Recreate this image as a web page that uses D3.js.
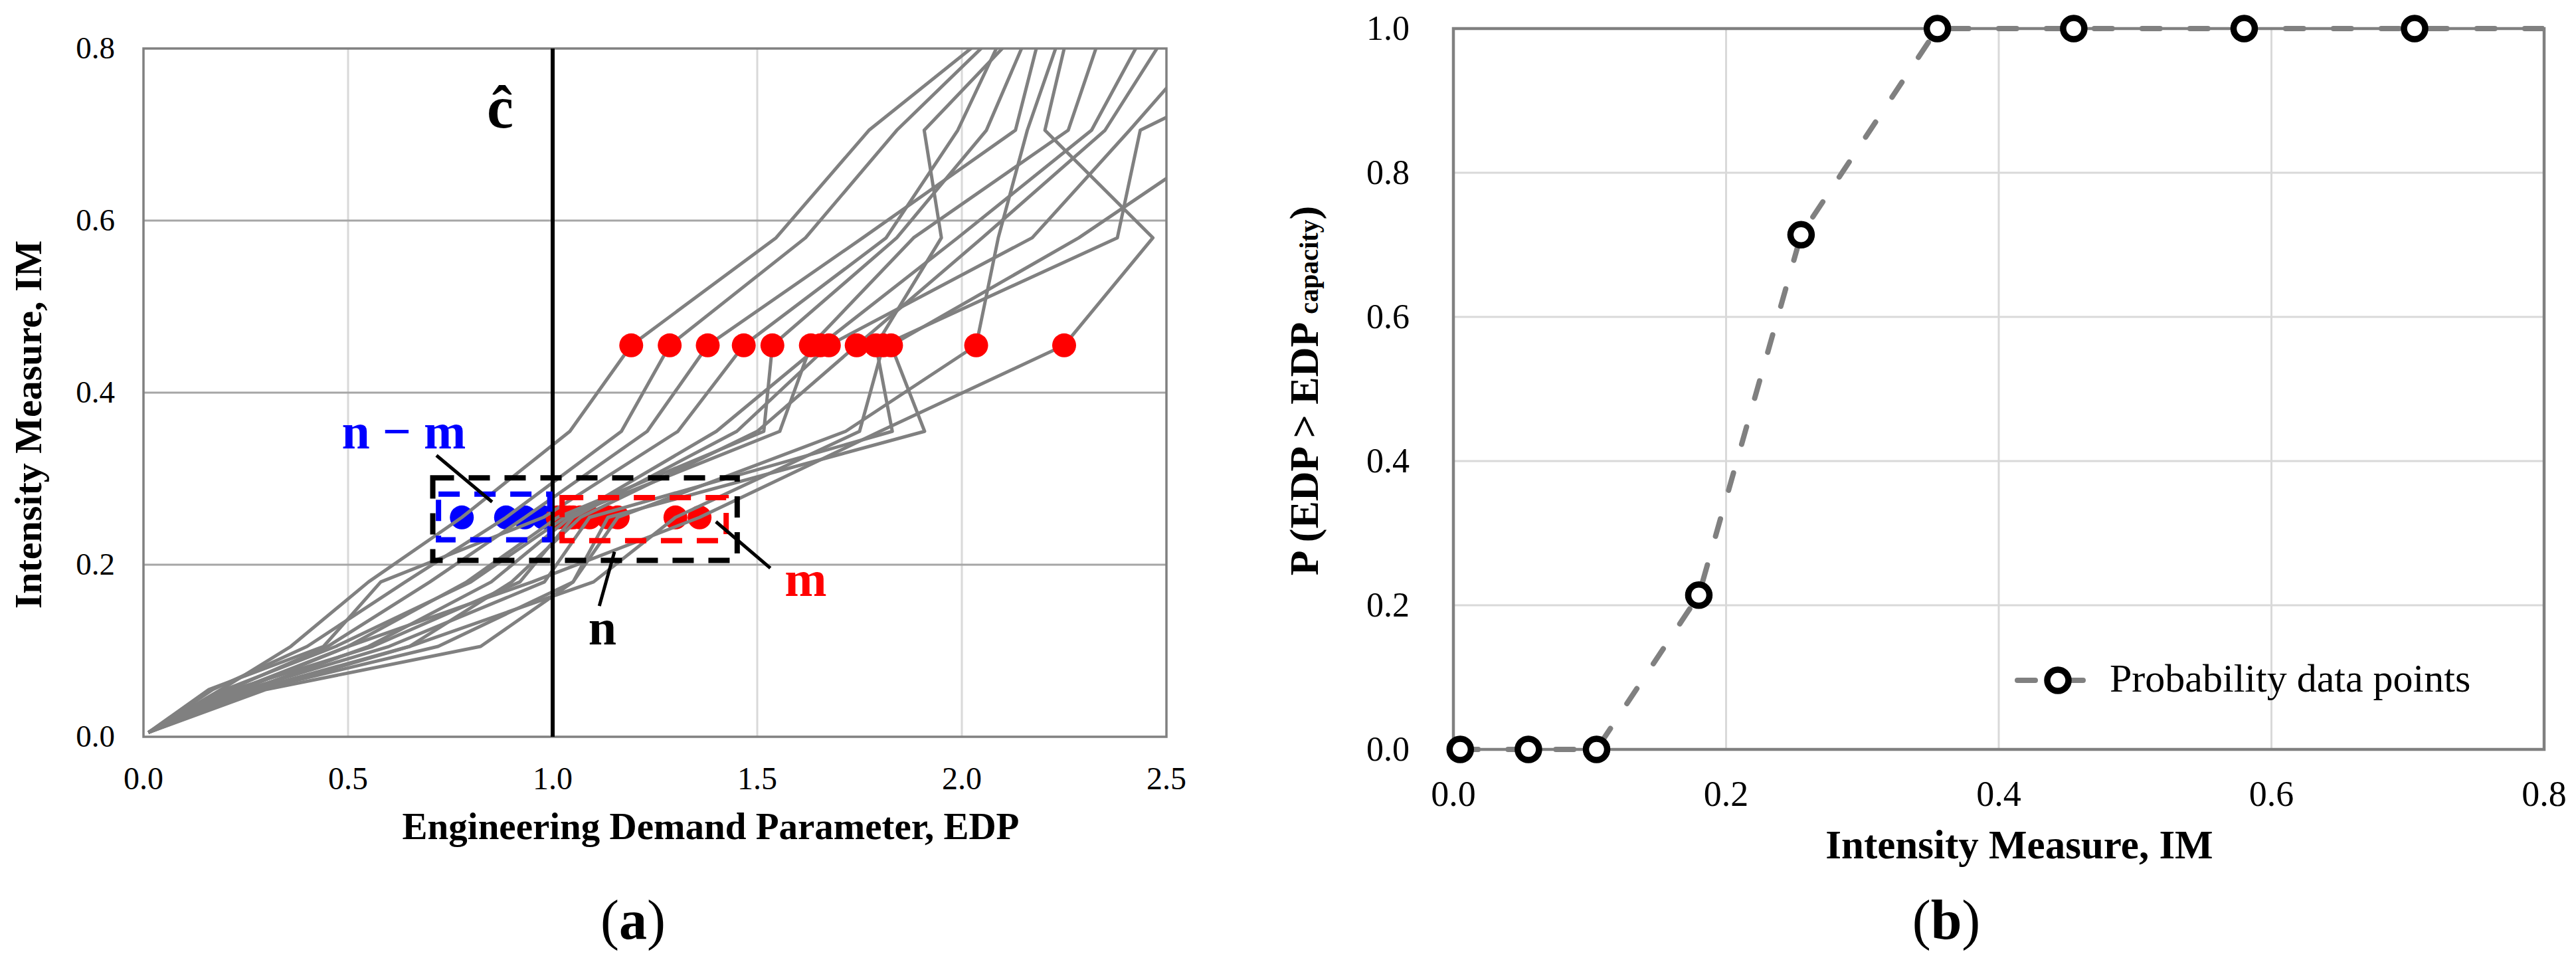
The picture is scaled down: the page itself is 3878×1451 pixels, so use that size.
<!DOCTYPE html>
<html>
<head>
<meta charset="utf-8">
<script src="https://cdn.jsdelivr.net/npm/d3@7"></script>
<style>
  html, body { margin: 0; padding: 0; background: #fff; }
  svg { display: block; }
  text { font-family: "Liberation Serif", "Times New Roman", serif; }
</style>
</head>
<body>
<svg id="chart" width="3878" height="1451"></svg>
<script>
// ---------------- DATA ----------------
// IDA intensity levels (IM) shared by every record
const imLevels = [0.005, 0.055, 0.105, 0.18, 0.255, 0.355, 0.455, 0.58, 0.705, 0.83];

// EDP of each record at each IM level
const rec01 = [0.012, 0.19, 0.36, 0.55, 0.778, 1.042, 1.192, 1.546, 1.773, 2.101];
const rec02 = [0.012, 0.17, 0.40, 0.64, 0.886, 1.168, 1.286, 1.618, 1.841, 2.112];
const rec03 = [0.012, 0.21, 0.45, 0.70, 0.932, 1.231, 1.379, 1.758, 2.131, 2.198];
const rec04 = [0.012, 0.16, 0.44, 0.58, 0.977, 1.306, 1.467, 1.815, 1.990, 2.114];
const rec05 = [0.012, 0.24, 0.50, 0.79, 1.012, 1.516, 1.537, 1.841, 2.060, 2.173];
const rec06 = [0.012, 0.20, 0.47, 0.80, 1.030, 1.555, 1.631, 1.882, 2.260, 2.349];
const rec07 = [0.012, 0.26, 0.55, 0.85, 1.042, 1.400, 1.654, 1.990, 2.317, 2.459];
const rec08 = [0.012, 0.22, 0.56, 0.92, 1.050, 1.450, 1.675, 2.172, 2.410, 2.640];
const rec09 = [0.012, 0.27, 0.65, 0.90, 1.068, 1.500, 1.743, 2.050, 2.350, 2.517];
const rec10 = [0.012, 0.25, 0.60, 0.98, 1.090, 1.830, 1.790, 1.950, 1.908, 2.159];
const rec11 = [0.012, 0.28, 0.72, 1.05, 1.135, 1.909, 1.827, 2.286, 2.674, 3.060];
const rec12 = [0.012, 0.30, 0.824, 1.05, 1.159, 1.716, 2.035, 2.089, 2.160, 2.251];
const rec13 = [0.012, 0.23, 0.50, 0.95, 1.359, 1.800, 2.250, 2.467, 2.203, 2.265];
const rec14 = [0.012, 0.29, 0.65, 1.10, 1.300, 1.750, 1.808, 2.380, 2.436, 2.970];
const records = [rec01, rec02, rec03, rec04, rec05, rec06, rec07, rec08, rec09, rec10, rec11, rec12, rec13, rec14];

const capacityEDP = 1.0;        // ĉ
const stripeIM = 0.255;         // IM level of n / m stripe
const allExceedIM = 0.455;      // IM level where all records exceed

// Annotation boxes (data units): [x0, x1, y0, y1]
const boxN = [0.707, 1.451, 0.205, 0.301];
const boxNm = [0.721, 0.993, 0.229, 0.282];
const boxM = [1.023, 1.424, 0.228, 0.278];

// Panel b: probability of exceedance
const probIM = [0.005, 0.055, 0.105, 0.18, 0.255, 0.355, 0.455, 0.58, 0.705, 0.83];
const probExceed = [0, 0, 0, 0.214, 0.714, 1, 1, 1, 1, 1];

// Tick labels
const ticksAx = [0, 0.5, 1.0, 1.5, 2.0, 2.5];
const ticksAy = [0, 0.2, 0.4, 0.6, 0.8];
const ticksBx = [0, 0.2, 0.4, 0.6, 0.8];
const ticksBy = [0, 0.2, 0.4, 0.6, 0.8, 1.0];

// ---------------- DRAW ----------------
const svg = d3.select("#chart");
svg.append("rect").attr("width", 3878).attr("height", 1451).attr("fill", "#fff");
const fmt = d3.format(".1f");
const GRAY = "#808080";

// ===== Panel (a) =====
const A = {l: 216, r: 1756, t: 73, b: 1109};
const xA = d3.scaleLinear().domain([0, 2.5]).range([A.l, A.r]);
const yA = d3.scaleLinear().domain([0, 0.8]).range([A.b, A.t]);

svg.append("clipPath").attr("id", "clipA").append("rect")
  .attr("x", A.l).attr("y", A.t).attr("width", A.r - A.l).attr("height", A.b - A.t);

const gA = svg.append("g");
// gridlines
gA.selectAll(".vgA").data(ticksAx.filter(d => d > 0 && d < 2.5)).join("line")
  .attr("x1", d => xA(d)).attr("x2", d => xA(d)).attr("y1", A.t).attr("y2", A.b)
  .attr("stroke", "#d9d9d9").attr("stroke-width", 3);
gA.selectAll(".hgA").data(ticksAy.filter(d => d > 0 && d < 0.8)).join("line")
  .attr("x1", A.l).attr("x2", A.r).attr("y1", d => yA(d)).attr("y2", d => yA(d))
  .attr("stroke", "#a6a6a6").attr("stroke-width", 3);
gA.append("rect").attr("x", A.l).attr("y", A.t).attr("width", A.r - A.l).attr("height", A.b - A.t)
  .attr("fill", "none").attr("stroke", GRAY).attr("stroke-width", 3.5);

// dots at stripe level (under the curves)
const iStripe = imLevels.indexOf(stripeIM);
const iAll = imLevels.indexOf(allExceedIM);
const stripeDots = records.map(r => r[iStripe]);
gA.selectAll(".sd").data(stripeDots).join("circle")
  .attr("cx", d => xA(d)).attr("cy", yA(stripeIM)).attr("r", 18)
  .attr("fill", d => d < capacityEDP ? "#0000ff" : "#ff0000");

// IDA curves
const lineA = d3.line().x(d => xA(d[0])).y(d => yA(d[1]));
gA.append("g").attr("clip-path", "url(#clipA)")
  .selectAll("path").data(records).join("path")
  .attr("d", r => lineA(r.map((e, i) => [e, imLevels[i]])))
  .attr("fill", "none").attr("stroke", GRAY).attr("stroke-width", 5).attr("stroke-linejoin", "round");

// dots at all-exceed level
gA.selectAll(".ad").data(records.map(r => r[iAll])).join("circle")
  .attr("cx", d => xA(d)).attr("cy", yA(allExceedIM)).attr("r", 18).attr("fill", "#ff0000");

// capacity line
gA.append("line").attr("x1", xA(capacityEDP)).attr("x2", xA(capacityEDP))
  .attr("y1", A.t).attr("y2", A.b).attr("stroke", "#000").attr("stroke-width", 6);

// boxes
function box(b, color) {
  gA.append("rect").attr("x", xA(b[0])).attr("y", yA(b[3]))
    .attr("width", xA(b[1]) - xA(b[0])).attr("height", yA(b[2]) - yA(b[3]))
    .attr("fill", "none").attr("stroke", color).attr("stroke-width", 8)
    .attr("stroke-dasharray", "32,22");
}
box(boxN, "#000");
box(boxNm, "#0000ff");
box(boxM, "#ff0000");

// leaders (data units)
const leaders = [
  [[0.716, 0.327], [0.852, 0.273]],
  [[1.151, 0.215], [1.114, 0.152]],
  [[1.399, 0.250], [1.532, 0.196]]
];
gA.selectAll(".ld").data(leaders).join("line")
  .attr("x1", d => xA(d[0][0])).attr("y1", d => yA(d[0][1]))
  .attr("x2", d => xA(d[1][0])).attr("y2", d => yA(d[1][1]))
  .attr("stroke", "#000").attr("stroke-width", 5);

// labels
gA.append("text").attr("x", 753).attr("y", 192).attr("text-anchor", "middle")
  .attr("font-size", 90).attr("font-weight", "bold").attr("fill", "#000").text("ĉ");
gA.append("text").attr("x", 608).attr("y", 675).attr("text-anchor", "middle")
  .attr("font-size", 76).attr("font-weight", "bold").attr("fill", "#0000ff").text("n − m");
gA.append("text").attr("x", 907).attr("y", 970).attr("text-anchor", "middle")
  .attr("font-size", 76).attr("font-weight", "bold").attr("fill", "#000").text("n");
gA.append("text").attr("x", 1213).attr("y", 897).attr("text-anchor", "middle")
  .attr("font-size", 76).attr("font-weight", "bold").attr("fill", "#ff0000").text("m");

// ticks
gA.selectAll(".tx").data(ticksAx).join("text")
  .attr("x", d => xA(d)).attr("y", 1188).attr("text-anchor", "middle")
  .attr("font-size", 48).text(d => fmt(d));
gA.selectAll(".ty").data(ticksAy).join("text")
  .attr("x", 173).attr("y", d => yA(d)).attr("dy", "0.32em").attr("text-anchor", "end")
  .attr("font-size", 47).text(d => fmt(d));

// titles
gA.append("text").attr("x", 1070).attr("y", 1263).attr("text-anchor", "middle")
  .attr("font-size", 57).attr("font-weight", "bold").text("Engineering Demand Parameter, EDP");
gA.append("text").attr("transform", "translate(62,639) rotate(-90)").attr("text-anchor", "middle")
  .attr("font-size", 58).attr("font-weight", "bold").text("Intensity Measure, IM");
const la = gA.append("text").attr("x", 953).attr("y", 1413).attr("text-anchor", "middle").attr("font-size", 84);
la.append("tspan").text("(");
la.append("tspan").attr("font-weight", "bold").text("a");
la.append("tspan").text(")");

// ===== Panel (b) =====
const B = {l: 2188, r: 3830, t: 43, b: 1128};
const xB = d3.scaleLinear().domain([0, 0.8]).range([B.l, B.r]);
const yB = d3.scaleLinear().domain([0, 1]).range([B.b, B.t]);
const gB = svg.append("g");

svg.append("clipPath").attr("id", "clipB").append("rect")
  .attr("x", B.l).attr("y", B.t - 10).attr("width", B.r - B.l).attr("height", B.b - B.t + 20);

gB.selectAll(".vgB").data(ticksBx.filter(d => d > 0 && d < 0.8)).join("line")
  .attr("x1", d => xB(d)).attr("x2", d => xB(d)).attr("y1", B.t).attr("y2", B.b)
  .attr("stroke", "#d9d9d9").attr("stroke-width", 3);
gB.selectAll(".hgB").data(ticksBy.filter(d => d > 0 && d < 1)).join("line")
  .attr("x1", B.l).attr("x2", B.r).attr("y1", d => yB(d)).attr("y2", d => yB(d))
  .attr("stroke", "#d9d9d9").attr("stroke-width", 3);
gB.append("rect").attr("x", B.l).attr("y", B.t).attr("width", B.r - B.l).attr("height", B.b - B.t)
  .attr("fill", "none").attr("stroke", GRAY).attr("stroke-width", 4.5);

const probPts = probIM.map((x, i) => [x, probExceed[i]]);
const lineB = d3.line().x(d => xB(d[0])).y(d => yB(d[1]));
gB.append("path").attr("clip-path", "url(#clipB)").attr("d", lineB(probPts))
  .attr("fill", "none").attr("stroke", GRAY).attr("stroke-width", 8)
  .attr("stroke-dasharray", "27,45").attr("stroke-linecap", "round").attr("stroke-linejoin", "round");

gB.selectAll(".pm").data(probPts.filter(d => d[0] <= 0.8)).join("circle")
  .attr("cx", d => xB(d[0])).attr("cy", d => yB(d[1])).attr("r", 16)
  .attr("fill", "#fff").attr("stroke", "#000").attr("stroke-width", 9.5);

// ticks
gB.selectAll(".tbx").data(ticksBx).join("text")
  .attr("x", d => xB(d)).attr("y", 1213).attr("text-anchor", "middle")
  .attr("font-size", 54).text(d => fmt(d));
gB.selectAll(".tby").data(ticksBy).join("text")
  .attr("x", 2122).attr("y", d => yB(d)).attr("dy", "0.33em").attr("text-anchor", "end")
  .attr("font-size", 52).text(d => fmt(d));

// titles
gB.append("text").attr("x", 3040).attr("y", 1292).attr("text-anchor", "middle")
  .attr("font-size", 61).attr("font-weight", "bold").text("Intensity Measure, IM");
const yt = gB.append("text").attr("transform", "translate(1984,588) rotate(-90)")
  .attr("text-anchor", "middle").attr("font-size", 62).attr("font-weight", "bold");
yt.append("tspan").text("P (EDP > EDP ");
yt.append("tspan").attr("font-size", 40).text("capacity");
yt.append("tspan").text(")");
const lb = gB.append("text").attr("x", 2930).attr("y", 1413).attr("text-anchor", "middle").attr("font-size", 84);
lb.append("tspan").text("(");
lb.append("tspan").attr("font-weight", "bold").text("b");
lb.append("tspan").text(")");

// legend
const lg = gB.append("g");
lg.append("line").attr("x1", 3037).attr("x2", 3140).attr("y1", 1024).attr("y2", 1024)
  .attr("stroke", GRAY).attr("stroke-width", 8).attr("stroke-dasharray", "27,45").attr("stroke-linecap", "round");
lg.append("circle").attr("cx", 3098).attr("cy", 1024).attr("r", 16)
  .attr("fill", "#fff").attr("stroke", "#000").attr("stroke-width", 9.5);
lg.append("text").attr("x", 3176).attr("y", 1041).attr("font-size", 60).text("Probability data points");
</script>
</body>
</html>
